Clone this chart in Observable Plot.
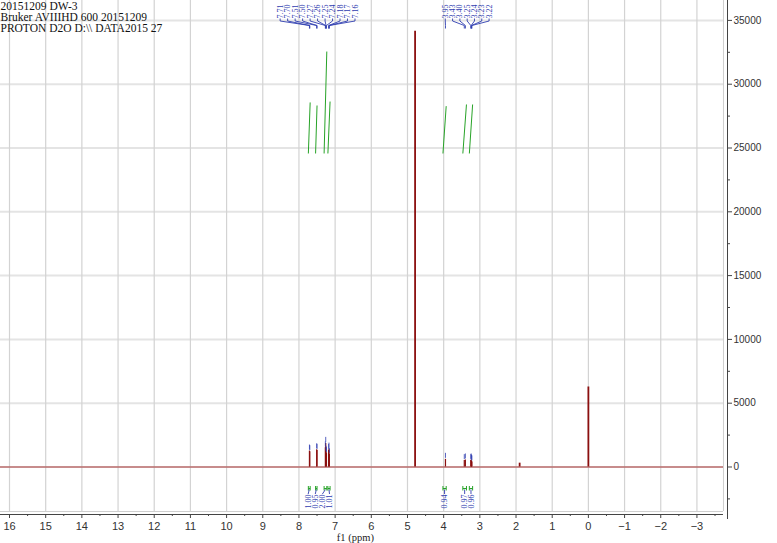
<!DOCTYPE html>
<html>
<head>
<meta charset="utf-8">
<script src="https://cdn.jsdelivr.net/npm/d3@7"></script>
<script src="https://cdn.jsdelivr.net/npm/@observablehq/plot@0.6"></script>
<style>
  html, body { margin: 0; padding: 0; background: #fff; }
  #chart { width: 777px; height: 543px; }
</style>
</head>
<body>
<div id="chart"></div>
<script>
// ---- header text ----
const headerLines = ["20151209 DW-3", "Bruker AVIIIHD 600 20151209", "PROTON D2O D:\\\\ DATA2015 27"];

// ---- picked (labelled) peaks ----
const pickedPpm = [7.71, 7.70, 7.51, 7.50, 7.27, 7.26, 7.25, 7.24, 7.18, 7.17, 7.16,
                   3.95, 3.43, 3.40, 3.25, 3.24, 3.23, 3.22];
const pickedHeight = [1250, 1200, 1350, 1300, 1500, 1850, 1150, 1050, 1300, 1400, 1000,
                      600, 500, 550, 500, 550, 450, 400];
const pickedGroup = ["A","A","A","A","A","A","A","A","A","A","A",
                     "B","B","B","B","B","B","B"];

// ---- unlabelled peaks (HDO, impurity, TMS) ----
const otherPpm = [4.79, 1.90, 0.00];
const otherHeight = [34150, 300, 6270];

// ---- integrals ----
const intStart = [7.74, 7.54, 7.305, 7.20, 4.02, 3.47, 3.29];
const intEnd   = [7.69, 7.50, 7.23, 7.14, 3.93, 3.37, 3.20];
const intValue = [1.00, 0.95, 2.00, 1.01, 0.94, 0.97, 0.96];
const intTop   = [28570, 28330, 32560, 28640, 28280, 28410, 28410];
const intBase  = 24570;
const intGroup = ["A","A","A","A","B","C","D"];

// ---- ticks ----
const xTicks = d3.range(-3, 17);
const xMinor = d3.range(-3.5, 16, 1);
const yTicks = [0, 5000, 10000, 15000, 20000, 25000, 30000, 35000];
const yMinor = [-2500, 2500, 7500, 12500, 17500, 22500, 27500, 32500];

// ---- layout constants ----
const W = 777, H = 543, MB = 29, plotH = H - MB;
const xDomain = [16.249, -3.845];
const xFrameRight = -3.734;
const yDomain = [-3723, 36560];
const vPerPx = (yDomain[1] - yDomain[0]) / plotH;
const vAt = py => yDomain[1] - py * vPerPx;
const yFrameBottom = vAt(511);
const ppmPerPx = (xDomain[0] - xDomain[1]) / W;

const blue = "#2f3db0", green = "#27a327", red = "#8b0f0f";

// label layout: spread labels of a group evenly around a centre
const groupCentre = {A: 7.485, B: 3.35};
const groupStep = {A: 8 * ppmPerPx, B: 7.8 * ppmPerPx};
const picked = pickedPpm.map((p, i) => ({ppm: p, h: pickedHeight[i], g: pickedGroup[i]}));
for (const g of ["A", "B"]) {
  const members = picked.filter(d => d.g === g);
  members.forEach((d, k) => { d.lx = groupCentre[g] + ((members.length - 1) / 2 - k) * groupStep[g]; });
}
const others = otherPpm.map((p, i) => ({ppm: p, h: otherHeight[i]}));

const integrals = intStart.map((s, i) => ({s, e: intEnd[i], v: intValue[i], top: intTop[i], g: intGroup[i], c: (s + intEnd[i]) / 2}));
{
  const a = integrals.filter(d => d.g === "A");
  const cen = 7.45, step = 7.6 * ppmPerPx;
  a.forEach((d, k) => { d.lx = cen + ((a.length - 1) / 2 - k) * step; });
  integrals.filter(d => d.g !== "A").forEach(d => { d.lx = d.c; });
}

const serif = "Liberation Serif";

const chart = Plot.plot({
  width: W, height: H,
  marginLeft: 0, marginRight: 50, marginTop: 0, marginBottom: MB,
  x: {domain: xDomain, range: [0, W - 50]},
  y: {domain: yDomain},
  style: {fontFamily: "Liberation Sans", fontSize: "11px", background: "#fff", color: "#333", overflow: "visible"},
  marks: [
    // grid
    Plot.ruleY(yTicks, {x1: xDomain[0], x2: xFrameRight, stroke: "#e4e4e4", strokeWidth: 2}),
    Plot.ruleX(xTicks, {y1: yFrameBottom, y2: yDomain[1], stroke: "#d3d3d3", strokeWidth: 1.2}),
    // frame
    Plot.ruleX([xFrameRight], {y1: yFrameBottom, y2: yDomain[1], stroke: "#cfcfcf"}),
    Plot.ruleY([yFrameBottom], {x1: xDomain[0], x2: xFrameRight, stroke: "#cfcfcf"}),
    // integral curves
    Plot.link(integrals, {x1: "s", x2: "e", y1: intBase, y2: "top", stroke: green, strokeWidth: 1}),
    // spectrum
    Plot.ruleY([0], {x1: xDomain[0], x2: xFrameRight, stroke: "#b04848", strokeOpacity: 0.75, strokeWidth: 1.5}),
    Plot.ruleX(picked, {x: "ppm", y1: 0, y2: "h", stroke: red, strokeWidth: 1.2}),
    Plot.ruleX(others, {x: "ppm", y1: 0, y2: "h", stroke: red, strokeWidth: 1.8}),
    // peak pick markers
    Plot.ruleX(picked, {x: "ppm", y1: d => d.h + vPerPx, y2: d => d.h + 6 * vPerPx, stroke: blue, strokeWidth: 1, strokeOpacity: 0.8}),
    // peak labels + connectors
    Plot.text(picked, {x: "lx", y: vAt(18), text: d => d.ppm.toFixed(2), rotate: -90, textAnchor: "start", lineAnchor: "middle",
      fontFamily: serif, fontSize: 8, fill: blue}),
    Plot.link(picked, {x1: "lx", x2: "lx", y1: vAt(18), y2: vAt(20.5), stroke: blue, strokeWidth: 0.9}),
    Plot.link(picked, {x1: "lx", x2: "ppm", y1: vAt(20.5), y2: vAt(25), stroke: blue, strokeWidth: 0.9}),
    Plot.link(picked, {x1: "ppm", x2: "ppm", y1: vAt(25), y2: vAt(28), stroke: blue, strokeWidth: 0.9}),
    // integral brackets and labels
    Plot.link(integrals, {x1: "s", x2: "e", y1: vAt(488), y2: vAt(488), stroke: green, strokeWidth: 1}),
    Plot.link(integrals, {x1: "s", x2: "s", y1: vAt(485.5), y2: vAt(490), stroke: green, strokeWidth: 1}),
    Plot.link(integrals, {x1: "e", x2: "e", y1: vAt(485.5), y2: vAt(490), stroke: green, strokeWidth: 1}),
    Plot.link(integrals, {x1: "c", x2: "lx", y1: vAt(489), y2: vAt(493.5), stroke: blue, strokeWidth: 0.9}),
    Plot.text(integrals, {x: "lx", y: vAt(494), text: d => d.v.toFixed(2), rotate: -90, textAnchor: "end", lineAnchor: "middle",
      fontFamily: serif, fontSize: 8, fill: blue}),
    // header
    Plot.text([headerLines.join("\n")], {frameAnchor: "top-left", textAnchor: "start", lineAnchor: "top", dx: 0, dy: 1.5,
      fontFamily: serif, fontSize: 11.5, lineHeight: 0.96, fill: "#111"}),
    // x axis
    Plot.ruleY([yDomain[0]], {x1: xDomain[0], x2: xFrameRight, stroke: "#444"}),
    Plot.axisX({ticks: xTicks, tickSize: 4, tickPadding: 4, label: null, fontSize: 11, stroke: "#444"}),
    Plot.axisX({ticks: xMinor, tickSize: 2, tickFormat: () => "", label: null, stroke: "#444"}),
    Plot.text(["f1 (ppm)"], {x: 6.44, y: yDomain[0], dy: 23, fontFamily: serif, fontSize: 10.5, fill: "#222"}),
    // y axis (right)
    Plot.ruleX([xDomain[1]], {y1: yDomain[1], y2: vAt(519), stroke: "#444"}),
    Plot.axisY({anchor: "right", ticks: yTicks, tickSize: 4, tickPadding: 2, tickFormat: d => String(d), label: null, fontSize: 10, stroke: "#444"}),
    Plot.axisY({anchor: "right", ticks: yMinor, tickSize: 2, tickFormat: () => "", label: null, stroke: "#444"})
  ]
});
document.getElementById("chart").appendChild(chart);
</script>
</body>
</html>
